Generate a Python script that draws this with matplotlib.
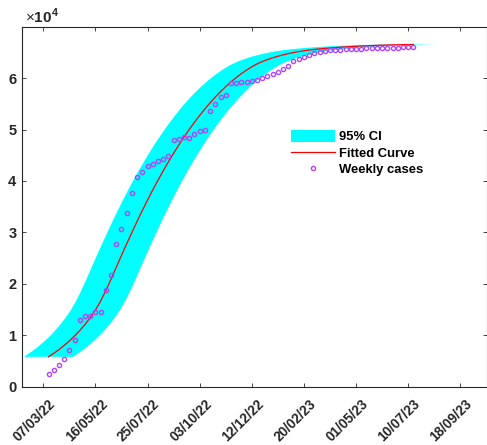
import numpy as np
import pandas as pd
import matplotlib
matplotlib.use("Agg")
import matplotlib.pyplot as plt
from matplotlib.transforms import ScaledTranslation

plt.rcParams['font.family'] = ['Liberation Sans', 'DejaVu Sans']
plt.rcParams['mathtext.fontset'] = 'custom'
plt.rcParams['mathtext.rm'] = 'Liberation Sans'
plt.rcParams['mathtext.bf'] = 'Liberation Sans:bold'

# ---------------- data ----------------
base_date = pd.Timestamp('2022-03-07')
first_week = '2022-03-14'
weekly_cases = [2520, 3230, 4130, 5300, 7110, 9110, 12920, 13700, 13700, 14600,
                14600, 18730, 21770, 27780, 30750, 33720, 37730, 40700, 41670, 42830,
                43350, 43930, 44320, 44770, 48000, 48260, 48580, 48450, 49220, 49810,
                49940, 53550, 54970, 56400, 56780, 59050, 59110, 59180, 59310, 59500,
                59690, 60020, 60340, 60730, 61180, 61830, 62280, 63250, 63640, 64150,
                64480, 64800, 65120, 65310, 65400, 65500, 65550, 65600, 65650, 65700,
                65750, 65800, 65800, 65850, 65900, 65900, 65950, 65950, 66000, 66000,
                66100]
weeks = pd.date_range(first_week, periods=len(weekly_cases), freq='7D')

fit_day_offsets = [7, 14, 21, 28, 35, 42, 49, 56, 63, 70, 77, 84, 91, 98, 105, 112,
                   119, 126, 133, 140, 147, 154, 161, 168, 175, 182, 189, 196, 203,
                   210, 217, 224, 231, 238, 245, 252, 259, 266, 273, 280, 287, 294,
                   301, 308, 315, 322, 329, 336, 343, 350, 364, 378, 399, 420, 441,
                   462, 483, 497]
fit_values = [5810, 6480, 7210, 8020, 8890, 9860, 10920, 12100, 13420, 14900,
              16650, 18680, 20920, 23230, 25540, 27780, 29990, 32160, 34260, 36290,
              38250, 40140, 41960, 43710, 45390, 47000, 48540, 50010, 51410, 52740,
              54000, 55190, 56310, 57360, 58340, 59250, 60090, 60860, 61560, 62190,
              62760, 63200, 63600, 63950, 64250, 64520, 64760, 64970, 65160, 65320,
              65580, 65780, 66020, 66200, 66340, 66440, 66510, 66550]
ci_halfwidth_days = 33

xtick_labels = ['07/03/22', '16/05/22', '25/07/22', '03/10/22', '12/12/22',
                '20/02/23', '01/05/23', '10/07/23', '18/09/23']
ytick_values = [0, 10000, 20000, 30000, 40000, 50000, 60000]
ytick_labels = ['0', '1', '2', '3', '4', '5', '6']

# ---------------- figure ----------------
fig = plt.figure(figsize=(4.87, 4.45), dpi=100)
ax = fig.add_axes([22.3 / 487, 1 - 386.7 / 445, (486.7 - 22.3) / 487, 360 / 445])

fit_dates = base_date + pd.to_timedelta(fit_day_offsets, unit='D')
shift = pd.Timedelta(days=ci_halfwidth_days)
band_x = list(fit_dates - shift) + list((fit_dates + shift)[::-1])
band_y = list(fit_values) + list(fit_values[::-1])

band = ax.fill(band_x, band_y, color=(0, 1, 1), linewidth=0, label='95% CI')[0]
fit_line, = ax.plot(fit_dates, fit_values, color=(1, 0, 0), linewidth=0.9,
                    label='Fitted Curve')
pts, = ax.plot(weeks, weekly_cases, linestyle='none', marker='o', markersize=3.0,
               markerfacecolor='none', markeredgecolor='#B044FF',
               markeredgewidth=1.0, label='Weekly cases')

ax.set_xlim(base_date - pd.Timedelta(days=28.2), base_date + pd.Timedelta(days=595.5))
ax.set_ylim(0, 70000)

xt = pd.to_datetime(xtick_labels, format='%d/%m/%y')
ax.set_xticks(xt)
ax.set_xticklabels(xtick_labels, rotation=45, ha='right', va='top',
                   rotation_mode='anchor', fontsize=9.8, fontweight='bold',
                   color=(0.15, 0.15, 0.15))
ax.set_yticks(ytick_values)
ax.set_yticklabels(ytick_labels, fontsize=10.5, fontweight='bold',
                   color=(0.15, 0.15, 0.15))

ax.tick_params(axis='both', direction='in', length=3, width=0.6,
               color=(0.15, 0.15, 0.15), top=True, right=True)
ax.tick_params(axis='y', pad=4.2)
ax.tick_params(axis='x', pad=7.5)
for lab in ax.get_xticklabels():
    lab.set_transform(lab.get_transform() + ScaledTranslation(3.5 / 72, 0, fig.dpi_scale_trans))
for sp in ax.spines.values():
    sp.set_color((0.15, 0.15, 0.15))
    sp.set_linewidth(0.8)

fig.text(25 / 487, 1 - 22.7 / 445, r'$\times\mathbf{10}^{\mathbf{4}}$', fontsize=11,
         color=(0.15, 0.15, 0.15), ha='left', va='baseline')

leg = ax.legend(handles=[band, fit_line, pts], loc='center left',
                bbox_to_anchor=((291 - 22.3) / 464.4, (386.7 - 153) / 360),
                frameon=False, borderaxespad=0, borderpad=0,
                handlelength=3.4, handleheight=1.0, handletextpad=0.28,
                labelspacing=0.24, prop={'size': 9.4, 'weight': 'bold'})

fig.savefig('out.png', dpi=100)
